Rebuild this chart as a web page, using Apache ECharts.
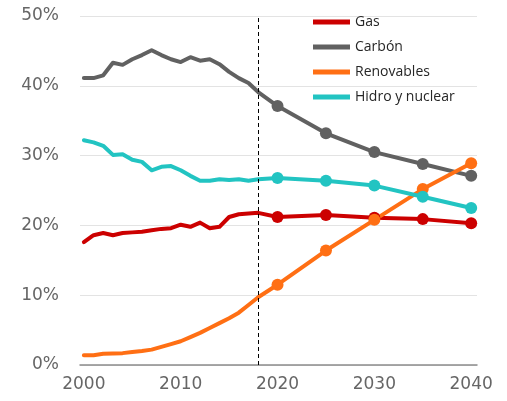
<!DOCTYPE html>
<html>
<head>
<meta charset="utf-8">
<script src="https://cdn.jsdelivr.net/npm/echarts@6/dist/echarts.min.js"></script>
<style>
  html, body { margin: 0; padding: 0; background: #fff; }
  #chart { width: 507px; height: 401px; }
</style>
</head>
<body>
<div id="chart"></div>
<script>
// años históricos y proyección
const histYears = [2000, 2001, 2002, 2003, 2004, 2005, 2006, 2007, 2008, 2009, 2010,
  2011, 2012, 2013, 2014, 2015, 2016, 2017, 2018];
const projYears = [2020, 2025, 2030, 2035, 2040];
const xLabels = [2000, 2010, 2020, 2030, 2040];

const gasHist = [17.6, 18.6, 18.9, 18.6, 18.9, 19.0, 19.1, 19.3, 19.5, 19.6, 20.1,
  19.8, 20.4, 19.6, 19.8, 21.2, 21.6, 21.7, 21.8];
const gasProj = [21.2, 21.5, 21.1, 20.9, 20.3];

const carbonHist = [41.1, 41.1, 41.5, 43.3, 43.0, 43.8, 44.4, 45.1, 44.4, 43.8, 43.4,
  44.1, 43.6, 43.8, 43.1, 42.0, 41.1, 40.4, 39.1];
const carbonProj = [37.1, 33.2, 30.5, 28.8, 27.1];

const renovHist = [1.4, 1.4, 1.6, 1.65, 1.7, 1.85, 2.0, 2.2, 2.6, 3.0, 3.4,
  4.0, 4.6, 5.3, 6.0, 6.7, 7.5, 8.6, 9.7];
const renovProj = [11.5, 16.4, 20.8, 25.2, 28.9];

const hidroHist = [32.2, 31.9, 31.4, 30.1, 30.2, 29.4, 29.1, 27.9, 28.4, 28.5, 27.9,
  27.1, 26.4, 26.4, 26.6, 26.5, 26.6, 26.4, 26.6];
const hidroProj = [26.8, 26.4, 25.7, 24.1, 22.5];

const labelColor = '#666666';
const gridColor = '#e3e3e3';

const seriesConfig = [
  { name: 'Gas', color: '#cc0000', hist: gasHist, proj: gasProj },
  { name: 'Carbón', color: '#616161', hist: carbonHist, proj: carbonProj },
  { name: 'Renovables', color: '#ff6f14', hist: renovHist, proj: renovProj },
  { name: 'Hidro y nuclear', color: '#22c4c2', hist: hidroHist, proj: hidroProj },
];

const buildData = (hist, proj) =>
  hist.map((v, i) => ({ value: [histYears[i], v], symbol: 'none' }))
    .concat(proj.map((v, i) => ({ value: [projYears[i], v] })));

const series = seriesConfig.map((s, idx) => ({
  name: s.name,
  type: 'line',
  data: buildData(s.hist, s.proj),
  symbol: 'circle',
  symbolSize: 12,
  showAllSymbol: true,
  color: s.color,
  lineStyle: { width: 4, color: s.color, cap: 'round', join: 'round' },
  itemStyle: { color: s.color },
  emphasis: { disabled: true },
  markLine: idx === 0 ? {
    silent: true,
    symbol: 'none',
    label: { show: false },
    lineStyle: { type: [4, 3], color: '#000', width: 1 },
    data: [{ xAxis: 2018 }],
  } : undefined,
}));

const chart = echarts.init(document.getElementById('chart'));
chart.setOption({
  animation: false,
  grid: { left: 80, right: 30, top: 16, bottom: 36 },
  legend: {
    orient: 'vertical',
    left: 308,
    top: 10,
    icon: 'rect',
    itemWidth: 37,
    itemHeight: 5,
    itemGap: 11,
    lineStyle: { width: 5, cap: 'round' },
    textStyle: {
      color: '#262626',
      fontSize: 14,
      fontFamily: 'Open Sans',
    },
    data: seriesConfig.map((s) => s.name),
  },
  xAxis: {
    type: 'value',
    min: 1999.6,
    max: 2040.6,
    axisLine: { show: true, lineStyle: { color: '#8c8c8c', width: 1.5 } },
    axisTick: { show: false },
    splitLine: { show: false },
    axisLabel: {
      customValues: xLabels,
      color: labelColor,
      fontSize: 17,
      fontFamily: 'DejaVu Sans',
      margin: 11,
      formatter: (v) => String(v),
    },
  },
  yAxis: {
    type: 'value',
    min: 0,
    max: 50,
    interval: 10,
    axisLine: { show: false },
    axisTick: { show: false },
    splitLine: { lineStyle: { color: gridColor, width: 1 } },
    axisLabel: {
      color: labelColor,
      fontSize: 17,
      fontFamily: 'DejaVu Sans',
      margin: 21,
      formatter: '{value}%',
    },
  },
  series: series,
});
</script>
</body>
</html>
